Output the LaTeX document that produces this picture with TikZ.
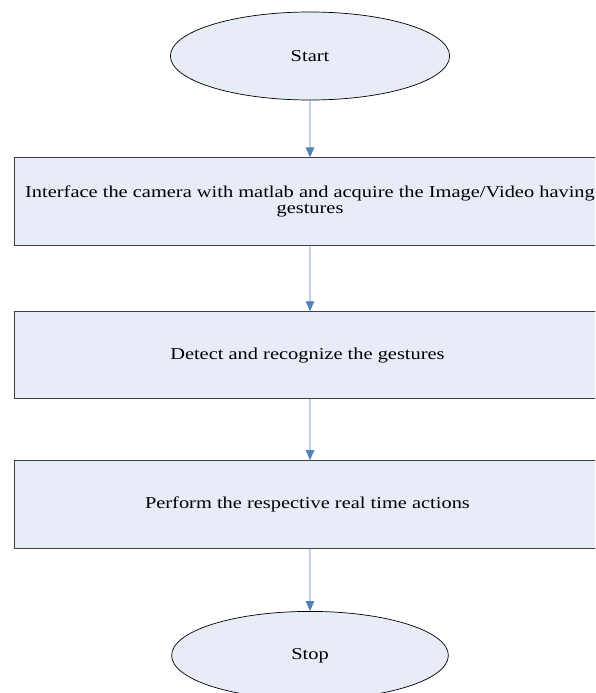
\documentclass[tikz,border=0pt]{standalone}
\usepackage{fontspec}
\setmainfont{Liberation Serif}
\usetikzlibrary{positioning,arrows.meta,shapes.geometric}
\definecolor{FlowFill}{RGB}{231,236,247}
\definecolor{FlowBlue}{RGB}{79,129,189}
\definecolor{BoxEdge}{RGB}{64,64,64}
\tikzset{
  stretch/.style={xscale=1.23,transform shape},
  flow/.style={-{Triangle[length=10pt,width=8.5pt]},line width=0.9pt,draw=FlowBlue},
  terminal/.style={ellipse,draw=black,line width=0.7pt,fill=FlowFill,stretch,
    minimum width=227pt,minimum height=88pt,inner sep=0pt,
    font=\fontsize{16.6}{16}\selectfont},
  stepbox/.style={rectangle,draw=BoxEdge,line width=0.9pt,fill=FlowFill,stretch,
    minimum width=481pt,minimum height=88pt,align=center,
    font=\fontsize{16.6}{16}\selectfont}
}
\begin{document}
\begin{tikzpicture}[x=1pt,y=1pt]
  \clip (0,0) rectangle (595,-693);
  \node[terminal] (start) at (310,-56) {Start};
  \node[stepbox,below=57pt of start] (acquire) {
    Interface the camera with matlab and acquire the Image/Video having\\
    gestures
  };
  \node[stepbox,below=65pt of acquire,minimum height=87pt] (detect) {
    Detect and recognize the gestures
  };
  \node[stepbox,below=61pt of detect] (perform) {
    Perform the respective real time actions
  };
  \node[terminal,below=62pt of perform,minimum width=225pt] (stop) {Stop};
  \draw[flow] (start) -- (acquire);
  \draw[flow] (acquire) -- (detect);
  \draw[flow] (detect) -- (perform);
  \draw[flow] (perform) -- (stop);
\end{tikzpicture}
\end{document}
